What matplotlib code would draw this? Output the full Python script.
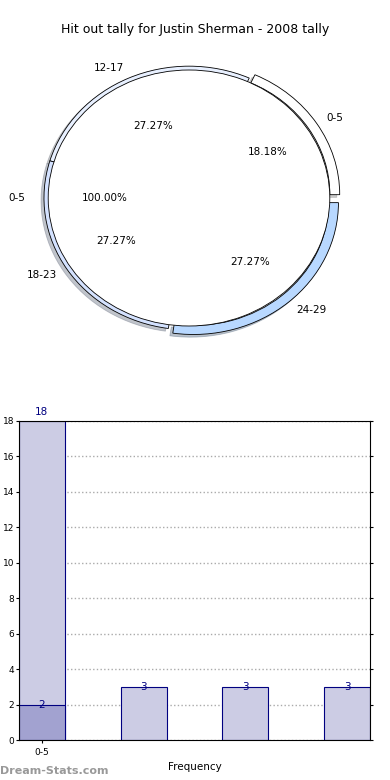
import matplotlib
matplotlib.use("Agg")
import matplotlib.pyplot as plt
import matplotlib.patches as mpatches
import numpy as np

# pie data
inner_labels = ["0-5"]
inner_values = [11]
ring_labels = ["0-5", "12-17", "18-23", "24-29"]
ring_values = [2, 3, 3, 3]
ring_colors = ["#ffffff", "#e8f0ff", "#d4e2ff", "#b8d8ff"]
ring_explode = [0.048, 0, 0, 0.048]

# bar data
bar_values = [18, 3, 3, 3]
bar_inner = [2]
tick_labels = ["0-5"]

fig = plt.figure(figsize=(3.9, 7.8), dpi=100)
fig.text(0.5, 1 - 30 / 780, "Hit out tally for Justin Sherman - 2008 tally",
         ha="center", va="center", fontsize=9)

# pie (egg shaped, like the original)
ax1 = fig.add_axes([13 / 390, 1 - 358 / 780, 352 / 390, 320 / 780])
ring, _, _ = ax1.pie(ring_values, labels=ring_labels, radius=1.03, autopct="%.2f%%",
                     colors=ring_colors, explode=ring_explode,
                     wedgeprops=dict(width=0.07, edgecolor="black", linewidth=0.6, zorder=2),
                     textprops=dict(fontsize=7.5, zorder=5), pctdistance=0.6,
                     labeldistance=1.08)
# shadows under the ring, hidden by the inner circle where they fall inside
for wdg in ring:
    sh = mpatches.Shadow(wdg, -0.015, -0.015, shade=0.45, alpha=0.45)
    sh.set_zorder(1)
    ax1.add_patch(sh)
# inner circle on top of the ring
ax1.pie(inner_values, labels=inner_labels, radius=1.0, autopct="%.2f%%",
        colors=["white"], wedgeprops=dict(edgecolor="black", linewidth=0.6, zorder=3),
        textprops=dict(fontsize=7.5, zorder=5), labeldistance=1.16, pctdistance=0.6)
ax1.set_aspect("auto")
ax1.set_xlim(-1.25, 1.25)
ax1.set_ylim(-1.25, 1.25)

# bars
ax2 = fig.add_axes([19 / 390, 1 - 740 / 780, 351 / 390, 319 / 780])
x = np.arange(len(bar_values))
w = 0.45
ax2.bar(x, bar_values, width=w, color="#cccce4", edgecolor="#000080", linewidth=0.8, zorder=2)
ax2.bar(x[:1], bar_inner, width=w, color="#a2a2d0", edgecolor="#000080", linewidth=0.8, zorder=3)
for xi, v in zip(x, bar_values):
    if v == max(bar_values):
        ax2.text(xi, v + 0.2, str(v), ha="center", va="bottom", color="#000080", fontsize=7.5)
    else:
        ax2.text(xi, v, str(v), ha="center", va="center", color="#000080", fontsize=7.5)
ax2.text(x[0], bar_inner[0], str(bar_inner[0]), ha="center", va="center",
         color="#000080", fontsize=7.5, zorder=4)

ax2.set_xlim(-w / 2, x[-1] + w / 2)
ax2.set_ylim(0, 18)
ax2.set_yticks(np.arange(0, 19, 2))
ax2.set_xticks([0])
ax2.set_xticklabels(tick_labels)
ax2.tick_params(labelsize=6.5, length=2, right=True, top=False)
ax2.tick_params(axis="y", pad=1.5)
ax2.grid(True, linestyle=":", color="#aaaaaa", linewidth=1, zorder=4)
for s in ax2.spines.values():
    s.set_zorder(10)
ax2.set_xlabel("Frequency", fontsize=7.5)

# y label sits mostly past the left edge, as in the original
fig.text(3 / 390, 0.5 * (1 - 740 / 780 + 1 - 421 / 780), "Stat Interval",
         rotation=90, fontsize=7.5, ha="right", va="center")

fig.text(0.0, 1 - 771 / 780, "Dream-Stats.com", fontsize=8, color="#999999",
         fontweight="bold", ha="left", va="center")

fig.savefig("out.png", dpi=100)
